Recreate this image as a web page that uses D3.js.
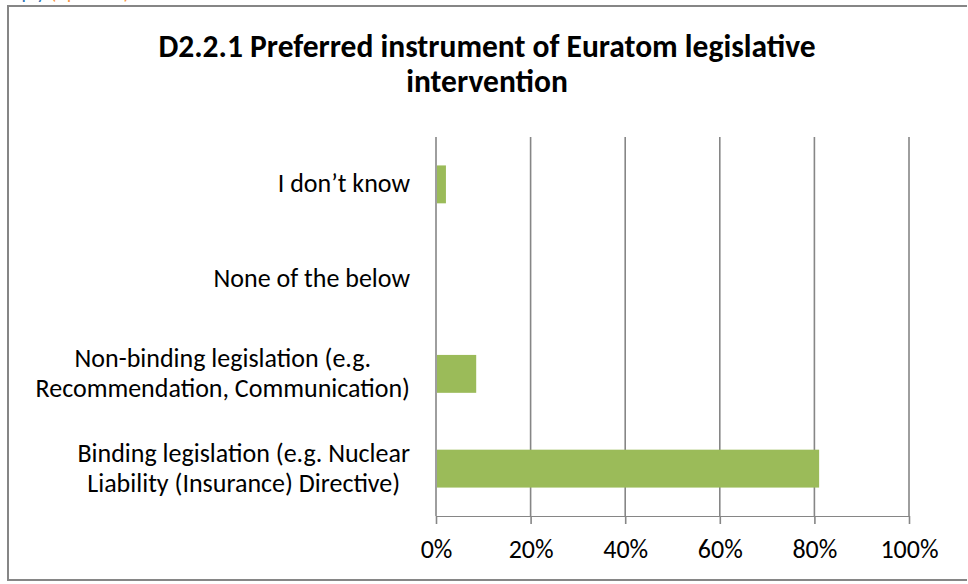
<!DOCTYPE html>
<html><head><meta charset="utf-8">
<script src="https://cdn.jsdelivr.net/npm/d3@7"></script>
<style>body{margin:0;background:#fff;overflow:hidden} svg{display:block}</style>
</head><body>
<svg id="c" width="968" height="584"></svg>
<script>
// ---- data ----
const categoryKeys = ["I don't know", "None of the below", "Non-binding", "Binding"];
const categoryLabels = [
  ["I don’t know"],
  ["None of the below"],
  ["Non-binding legislation (e.g.", "Recommendation, Communication)"],
  ["Binding legislation (e.g. Nuclear", "Liability (Insurance) Directive)"]
];
const values = [2.1, 0, 8.5, 81.0];
const tickValues = [0, 20, 40, 60, 80, 100];
const titleLines = ["D2.2.1 Preferred instrument of Euratom legislative", "intervention"];

// ---- layout ----
const FONT = "Carlito, Lato, 'Open Sans', sans-serif";
const svg = d3.select("#c");
const plot = {left: 436, right: 909, top: 137, bottom: 516};
const x = d3.scaleLinear().domain([0, 100]).range([plot.left, plot.right]);
const y = d3.scaleBand().domain(categoryKeys).range([plot.top, plot.bottom])
  .paddingInner(0.6).paddingOuter(0.3);
const gridColor = "#868686";

// clipped header text from the page above the chart
const hdr = svg.append("text").attr("x", 1).attr("y", -1)
  .attr("font-family", FONT).attr("font-size", 20);
hdr.append("tspan").attr("fill", "#2E74B5").text("Reply ");
hdr.append("tspan").attr("fill", "#F79646").text("(optional)");

// chart border
svg.append("path")
  .attr("d", "M967,6 H8 V580 H967")
  .attr("fill", "none").attr("stroke", gridColor).attr("stroke-width", 2);

// title
svg.append("g").selectAll("text").data(titleLines).join("text")
  .attr("x", 487).attr("y", (d, i) => 57 + i * 35)
  .attr("text-anchor", "middle")
  .attr("font-family", FONT).attr("font-weight", "bold").attr("font-size", 31.5)
  .attr("fill", "#000").text(d => d);

// vertical gridlines
svg.append("g").selectAll("line").data(tickValues).join("line")
  .attr("x1", d => x(d)).attr("x2", d => x(d))
  .attr("y1", plot.top).attr("y2", plot.bottom)
  .attr("stroke", gridColor).attr("stroke-width", 1.6);

// x axis
const xAxis = d3.axisBottom(x).tickValues(tickValues).tickFormat(d => d + "%")
  .tickSizeInner(8).tickSizeOuter(0);
const gx = svg.append("g").attr("transform", `translate(0,${plot.bottom})`).call(xAxis);
gx.select(".domain").attr("stroke", gridColor).attr("stroke-width", 1.2);
gx.selectAll(".tick line").attr("stroke", gridColor).attr("stroke-width", 1.6);
gx.selectAll(".tick text").attr("dy", null).attr("y", 42)
  .attr("font-family", FONT).attr("font-size", 26).attr("fill", "#000");

// bars
svg.append("g").selectAll("rect").data(values).join("rect")
  .attr("x", x(0) + 1)
  .attr("y", (d, i) => y(categoryKeys[i]))
  .attr("width", d => Math.max(0, x(d) - x(0) - 1))
  .attr("height", y.bandwidth())
  .attr("fill", "#9BBB59");

// category labels: block right-aligned, lines centred within block
const labelRight = 410;
const lineH = 30;
categoryLabels.forEach((lines, i) => {
  const cy = y(categoryKeys[i]) + y.bandwidth() / 2;
  const g = svg.append("g");
  const texts = g.selectAll("text").data(lines).join("text")
    .attr("font-family", FONT).attr("font-size", 26).attr("fill", "#000")
    .attr("text-anchor", "middle")
    .text(d => d);
  let maxW = 0;
  texts.each(function () { maxW = Math.max(maxW, this.getComputedTextLength()); });
  const n = lines.length;
  texts.attr("x", labelRight - maxW / 2)
    .attr("y", (d, j) => cy + 8 + (j - (n - 1) / 2) * lineH);
});
</script>
</body></html>
